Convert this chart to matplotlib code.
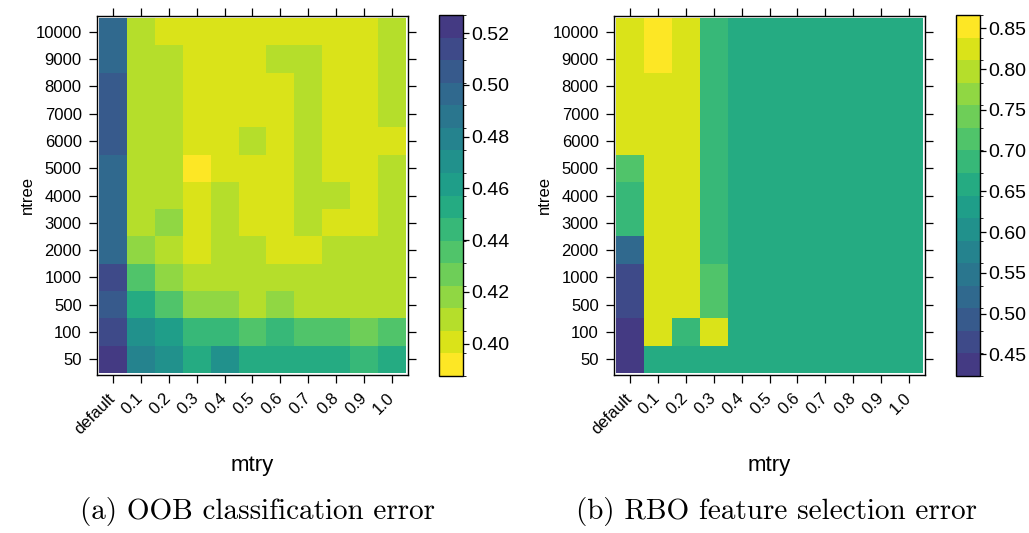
import numpy as np
import matplotlib
matplotlib.use("Agg")
import matplotlib.pyplot as plt
from matplotlib.colors import ListedColormap, BoundaryNorm

mtry_labels = ["default", "0.1", "0.2", "0.3", "0.4", "0.5",
               "0.6", "0.7", "0.8", "0.9", "1.0"]
ntree_labels = ["50", "100", "500", "1000", "2000", "3000", "4000",
                "5000", "6000", "7000", "8000", "9000", "10000"]

# one row per ntree, from 50 (bottom) to 10000 (top)
oob_error = [
    [0.527, 0.479, 0.470, 0.453, 0.470, 0.453, 0.453, 0.453, 0.453, 0.444, 0.453],
    [0.514, 0.470, 0.462, 0.444, 0.444, 0.436, 0.444, 0.436, 0.436, 0.427, 0.436],
    [0.505, 0.453, 0.436, 0.418, 0.418, 0.409, 0.418, 0.409, 0.409, 0.409, 0.409],
    [0.514, 0.436, 0.418, 0.409, 0.409, 0.409, 0.409, 0.409, 0.409, 0.409, 0.409],
    [0.497, 0.418, 0.409, 0.401, 0.409, 0.409, 0.401, 0.401, 0.409, 0.409, 0.409],
    [0.497, 0.409, 0.418, 0.401, 0.409, 0.401, 0.401, 0.409, 0.401, 0.401, 0.409],
    [0.497, 0.409, 0.409, 0.401, 0.409, 0.401, 0.401, 0.409, 0.409, 0.401, 0.409],
    [0.497, 0.409, 0.409, 0.3875, 0.401, 0.401, 0.401, 0.409, 0.401, 0.401, 0.409],
    [0.505, 0.409, 0.409, 0.401, 0.401, 0.409, 0.401, 0.409, 0.401, 0.401, 0.401],
    [0.505, 0.409, 0.409, 0.401, 0.401, 0.401, 0.401, 0.409, 0.401, 0.401, 0.409],
    [0.505, 0.409, 0.409, 0.401, 0.401, 0.401, 0.401, 0.409, 0.401, 0.401, 0.409],
    [0.497, 0.409, 0.409, 0.401, 0.401, 0.401, 0.409, 0.409, 0.401, 0.401, 0.409],
    [0.497, 0.409, 0.401, 0.401, 0.401, 0.401, 0.401, 0.401, 0.401, 0.401, 0.409],
]

rbo_error = [
    [0.4234, 0.659, 0.659, 0.659, 0.659, 0.659, 0.659, 0.659, 0.659, 0.659, 0.659],
    [0.437, 0.825, 0.686, 0.825, 0.659, 0.659, 0.659, 0.659, 0.659, 0.659, 0.659],
    [0.465, 0.825, 0.825, 0.714, 0.659, 0.659, 0.659, 0.659, 0.659, 0.659, 0.659],
    [0.465, 0.825, 0.825, 0.714, 0.659, 0.659, 0.659, 0.659, 0.659, 0.659, 0.659],
    [0.520, 0.825, 0.825, 0.686, 0.659, 0.659, 0.659, 0.659, 0.659, 0.659, 0.659],
    [0.686, 0.825, 0.825, 0.686, 0.659, 0.659, 0.659, 0.659, 0.659, 0.659, 0.659],
    [0.686, 0.825, 0.825, 0.686, 0.659, 0.659, 0.659, 0.659, 0.659, 0.659, 0.659],
    [0.714, 0.825, 0.825, 0.686, 0.659, 0.659, 0.659, 0.659, 0.659, 0.659, 0.659],
    [0.825, 0.825, 0.825, 0.686, 0.659, 0.659, 0.659, 0.659, 0.659, 0.659, 0.659],
    [0.825, 0.825, 0.825, 0.686, 0.659, 0.659, 0.659, 0.659, 0.659, 0.659, 0.659],
    [0.825, 0.825, 0.825, 0.686, 0.659, 0.659, 0.659, 0.659, 0.659, 0.659, 0.659],
    [0.825, 0.8664, 0.825, 0.686, 0.659, 0.659, 0.659, 0.659, 0.659, 0.659, 0.659],
    [0.825, 0.8664, 0.825, 0.686, 0.659, 0.659, 0.659, 0.659, 0.659, 0.659, 0.659],
]

oob_ticks = [0.40, 0.42, 0.44, 0.46, 0.48, 0.50, 0.52]
rbo_ticks = [0.45, 0.50, 0.55, 0.60, 0.65, 0.70, 0.75, 0.80, 0.85]

plt.rcParams["font.family"] = ["Liberation Sans", "DejaVu Sans"]

W, H = 1029, 533
fig = plt.figure(figsize=(W / 100, H / 100), dpi=100)

# 16 colour bands, like lattice's levelplot with cuts=15
shades = plt.cm.viridis(np.linspace(0.17, 1.0, 16))


def box(x, y, w, h):
    # pixel box (top-left origin) -> figure fraction
    return [x / W, 1 - (y + h) / H, w / W, h / H]


def draw_panel(left, values, colors, ticks):
    ax = fig.add_axes(box(left, 16, 311, 359))
    cax = fig.add_axes(box(left + 342, 15, 24, 361))

    z = np.array(values)
    levels = np.linspace(z.min(), z.max(), 17)
    cmap = ListedColormap(colors)
    norm = BoundaryNorm(levels, cmap.N)
    mesh = ax.pcolormesh(np.arange(len(mtry_labels) + 1) - 0.5,
                         np.arange(len(ntree_labels) + 1) - 0.5,
                         z, cmap=cmap, norm=norm, edgecolors="face", linewidth=0)
    ax.set_xlim(-0.57, len(mtry_labels) - 0.43)
    ax.set_ylim(-0.57, len(ntree_labels) - 0.43)

    ax.set_xticks(range(len(mtry_labels)))
    ax.set_xticklabels(mtry_labels, rotation=45, ha="right", va="center",
                       rotation_mode="anchor")
    ax.set_yticks(range(len(ntree_labels)))
    ax.set_yticklabels(ntree_labels)
    ax.tick_params(top=True, right=True, direction="out", length=6,
                   width=0.9, labelsize=12, pad=5)
    ax.tick_params(axis="x", pad=9)
    for s in ax.spines.values():
        s.set_linewidth(1.0)

    cb = fig.colorbar(mesh, cax=cax)
    cb.set_ticks(ticks)
    cb.set_ticklabels(["%.2f" % t for t in ticks])
    cb.outline.set_linewidth(1.0)
    cax.tick_params(length=4, width=0.9, labelsize=14, pad=2)

    cx = left + 155
    fig.text(cx / W, 1 - 465 / H, "mtry", fontsize=16, ha="center", va="center")
    fig.text((left - 70) / W, 1 - 195 / H, "ntree", fontsize=12,
             rotation=90, ha="center", va="center")
    return ax


draw_panel(97, oob_error, shades[::-1], oob_ticks)
draw_panel(614, rbo_error, shades, rbo_ticks)

fig.text(258 / W, 1 - 512 / H, "(a) OOB classification error",
         family="cmr10", fontsize=21, ha="center", va="center")
fig.text(776 / W, 1 - 512 / H, "(b) RBO feature selection error",
         family="cmr10", fontsize=21, ha="center", va="center")

fig.savefig("out.png", dpi=100)
